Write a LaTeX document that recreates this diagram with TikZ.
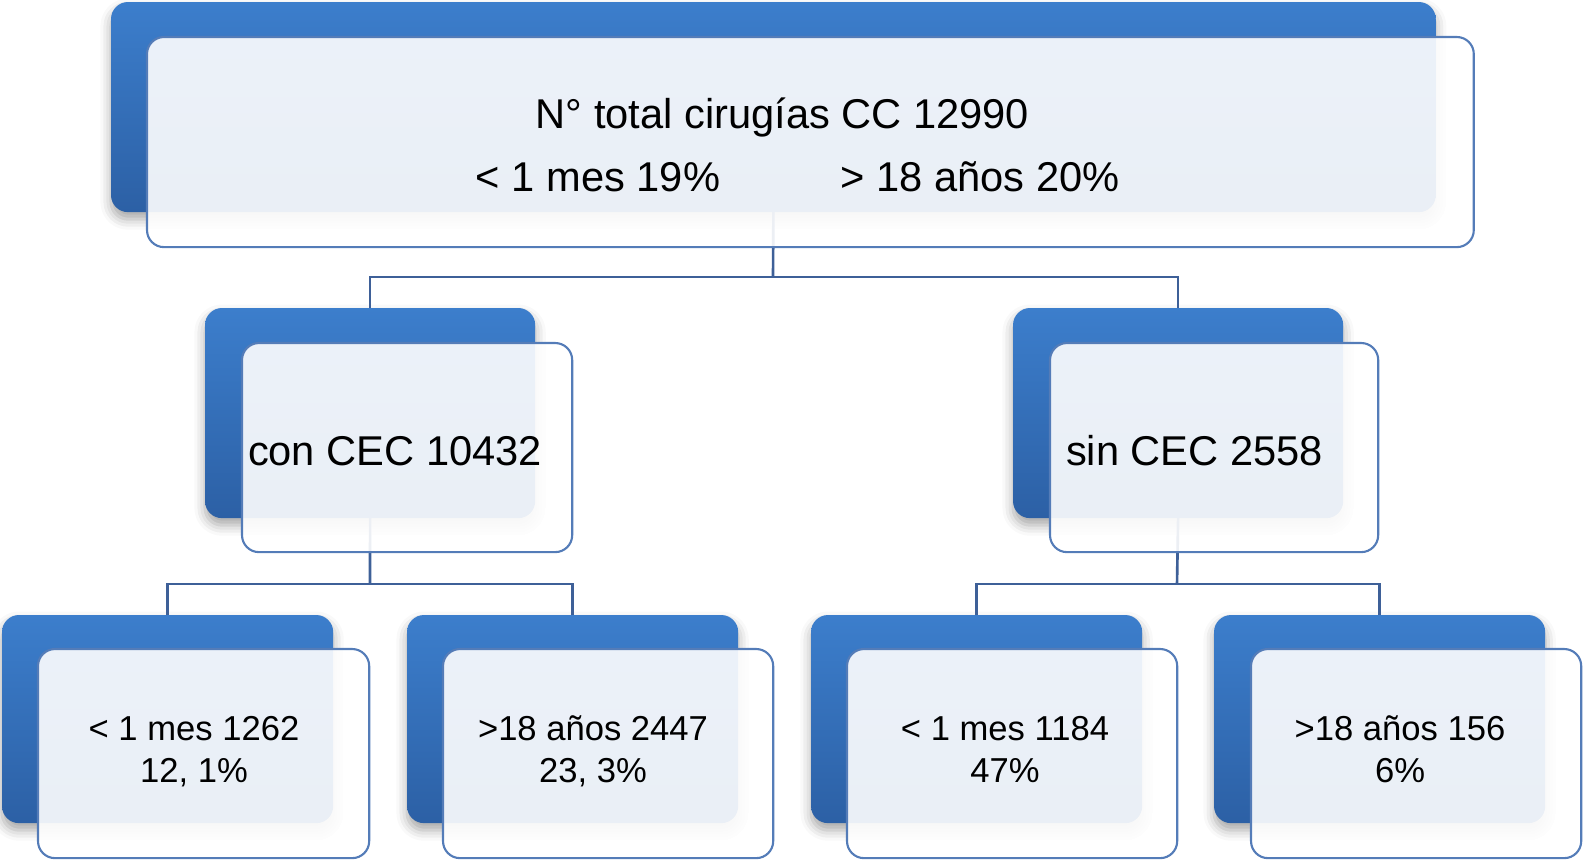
\documentclass[tikz,border=0pt]{standalone}
\usepackage{fontspec}
\setmainfont{Liberation Sans}
\usetikzlibrary{shadows.blur}
\definecolor{bluetop}{RGB}{60,126,204}
\definecolor{bluebot}{RGB}{44,96,165}
\definecolor{frontline}{RGB}{84,124,184}
\definecolor{connclr}{RGB}{62,96,152}
\tikzset{
  backbox/.style={rectangle, rounded corners=0.17cm, draw=none, inner sep=0pt, outer sep=0pt,
    top color=bluetop, bottom color=bluebot, anchor=north west,
    blur shadow={shadow xshift=0pt, shadow yshift=-2pt, shadow blur radius=3pt, shadow opacity=35}},
  frontbox/.style={rectangle, rounded corners=0.17cm, draw=frontline, line width=0.6pt,
    fill=white, fill opacity=0.9, inner sep=0pt, outer sep=0pt, anchor=north west},
  connector/.style={draw=connclr, line width=0.75pt},
  bigtext/.style={font=\fontsize{11.84pt}{14.2pt}\selectfont, anchor=base, inner sep=0pt, text=black},
  smalltext/.style={font=\fontsize{9.84pt}{11.95pt}\selectfont, align=center, anchor=base, inner sep=0pt, text=black},
}
\begin{document}
\begin{tikzpicture}[x=0.01cm, y=-0.01cm]
\useasboundingbox (0,0) rectangle (1583,860);
% back boxes
\node[backbox, minimum width=13.24cm, minimum height=2.10cm] (b0) at (111,2) {};
\node[backbox, minimum width=3.30cm, minimum height=2.10cm] (bL) at (205,308) {};
\node[backbox, minimum width=3.30cm, minimum height=2.10cm] (bR) at (1013,308) {};
\node[backbox, minimum width=3.31cm, minimum height=2.08cm] (b1) at (2,615) {};
\node[backbox, minimum width=3.31cm, minimum height=2.08cm] (b2) at (407,615) {};
\node[backbox, minimum width=3.31cm, minimum height=2.08cm] (b3) at (811,615) {};
\node[backbox, minimum width=3.31cm, minimum height=2.08cm] (b4) at (1214,615) {};
% connectors
\coordinate (j0) at (773,277);
\coordinate (jL) at (370,584);
\coordinate (jR) at (1177,584);
\draw[connector] (b0.south) -- (j0);
\draw[connector] (bL.north) |- (j0) -| (bR.north);
\draw[connector] (bL.south) -- (jL);
\draw[connector] (b1.north) |- (jL) -| (b2.north);
\draw[connector] (bR.south) -- (jR);
\draw[connector] (b3.north) |- (jR) -| (b4.north);
% front boxes
\node[frontbox, minimum width=13.26cm, minimum height=2.10cm] (f0) at (147,37) {};
\node[frontbox, minimum width=3.30cm, minimum height=2.09cm] (fL) at (242,343) {};
\node[frontbox, minimum width=3.28cm, minimum height=2.09cm] (fR) at (1050,343) {};
\node[frontbox, minimum width=3.31cm, minimum height=2.09cm] (f1) at (38,649) {};
\node[frontbox, minimum width=3.30cm, minimum height=2.09cm] (f2) at (443,649) {};
\node[frontbox, minimum width=3.30cm, minimum height=2.09cm] (f3) at (847,649) {};
\node[frontbox, minimum width=3.30cm, minimum height=2.09cm] (f4) at (1251,649) {};
% texts
\node[bigtext] (t0) at (782.5,128) {N° total cirugías CC 12990};
\node[bigtext] (t0a) at (598,191) {< 1 mes 19\%};
\node[bigtext] (t0b) at (980,191) {> 18 años 20\%};
\node[bigtext] (tL) at (395,465) {con CEC 10432};
\node[bigtext] (tR) at (1194.5,465) {sin CEC 2558};
\node[smalltext] (t1) at (194,782) {< 1 mes 1262\\12, 1\%};
\node[smalltext] (t2) at (593,782) {>18 años 2447\\23, 3\%};
\node[smalltext] (t3) at (1005,782) {< 1 mes 1184\\47\%};
\node[smalltext] (t4) at (1400,782) {>18 años 156\\6\%};
\end{tikzpicture}
\end{document}
